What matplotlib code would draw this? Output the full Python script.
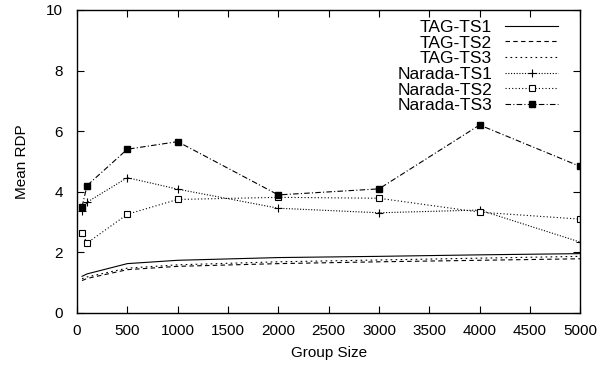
import matplotlib
matplotlib.use("Agg")
from matplotlib import pyplot as plt

plt.rcParams['font.family'] = ['Liberation Sans', 'DejaVu Sans']

group_size = [50, 100, 500, 1000, 2000, 3000, 4000, 5000]

tag_ts1 = [1.20, 1.28, 1.62, 1.73, 1.82, 1.86, 1.91, 1.95]
tag_ts2 = [1.06, 1.13, 1.42, 1.53, 1.62, 1.68, 1.73, 1.78]
tag_ts3 = [1.12, 1.18, 1.47, 1.58, 1.68, 1.74, 1.80, 1.86]
narada_ts1 = [3.35, 3.65, 4.46, 4.08, 3.45, 3.30, 3.39, 2.33]
narada_ts2 = [2.63, 2.30, 3.25, 3.74, 3.81, 3.78, 3.32, 3.09]
narada_ts3 = [3.50, 4.20, 5.40, 5.65, 3.89, 4.09, 6.20, 4.83]

x_ticks = list(range(0, 5001, 500))
y_ticks = [0, 2, 4, 6, 8, 10]

fig = plt.figure(figsize=(6.16, 3.70), dpi=100)
ax = fig.add_axes([0.125, 0.155, 0.817, 0.818])

lw = 0.8
ax.plot(group_size, tag_ts1, color='black', linestyle='-', linewidth=lw, label='TAG-TS1')
ax.plot(group_size, tag_ts2, color='black', linestyle=(0, (4, 3)), linewidth=lw, label='TAG-TS2')
ax.plot(group_size, tag_ts3, color='black', linestyle=(0, (1.5, 3)), linewidth=lw, label='TAG-TS3')
ax.plot(group_size, narada_ts1, color='black', linestyle=(0, (1, 1.5)), linewidth=lw,
        marker='+', markersize=5.5, markeredgewidth=0.8, label='Narada-TS1')
ax.plot(group_size, narada_ts2, color='black', linestyle=(0, (1, 2)), linewidth=lw,
        marker='s', markersize=5, markerfacecolor='white', markeredgewidth=0.8, label='Narada-TS2')
ax.plot(group_size, narada_ts3, color='black', linestyle=(0, (5, 2, 1, 2)), linewidth=lw,
        marker='s', markersize=5, markerfacecolor='black', label='Narada-TS3')

ax.set_xlim(0, 5000)
ax.set_ylim(0, 10)
ax.set_xticks(x_ticks)
ax.set_yticks(y_ticks)
ax.tick_params(direction='in', top=True, right=True, labelsize=11, length=5, width=0.8)
ax.tick_params(axis='x', pad=8)
ax.tick_params(axis='y', pad=10)
for s in ax.spines.values():
    s.set_linewidth(1.0)

ax.set_xlabel('Group Size', fontsize=11, labelpad=6)
ax.set_ylabel('Mean RDP', fontsize=11, labelpad=12)

ax.legend(loc='upper right', bbox_to_anchor=(0.956, 0.968), frameon=False,
          markerfirst=False, fontsize=12.5, handlelength=3.05, labelspacing=0.03,
          borderaxespad=0, borderpad=0, handletextpad=0.75)
for t in ax.get_legend().get_texts():
    t.set_ha('right')

fig.savefig('out.png', dpi=100)
